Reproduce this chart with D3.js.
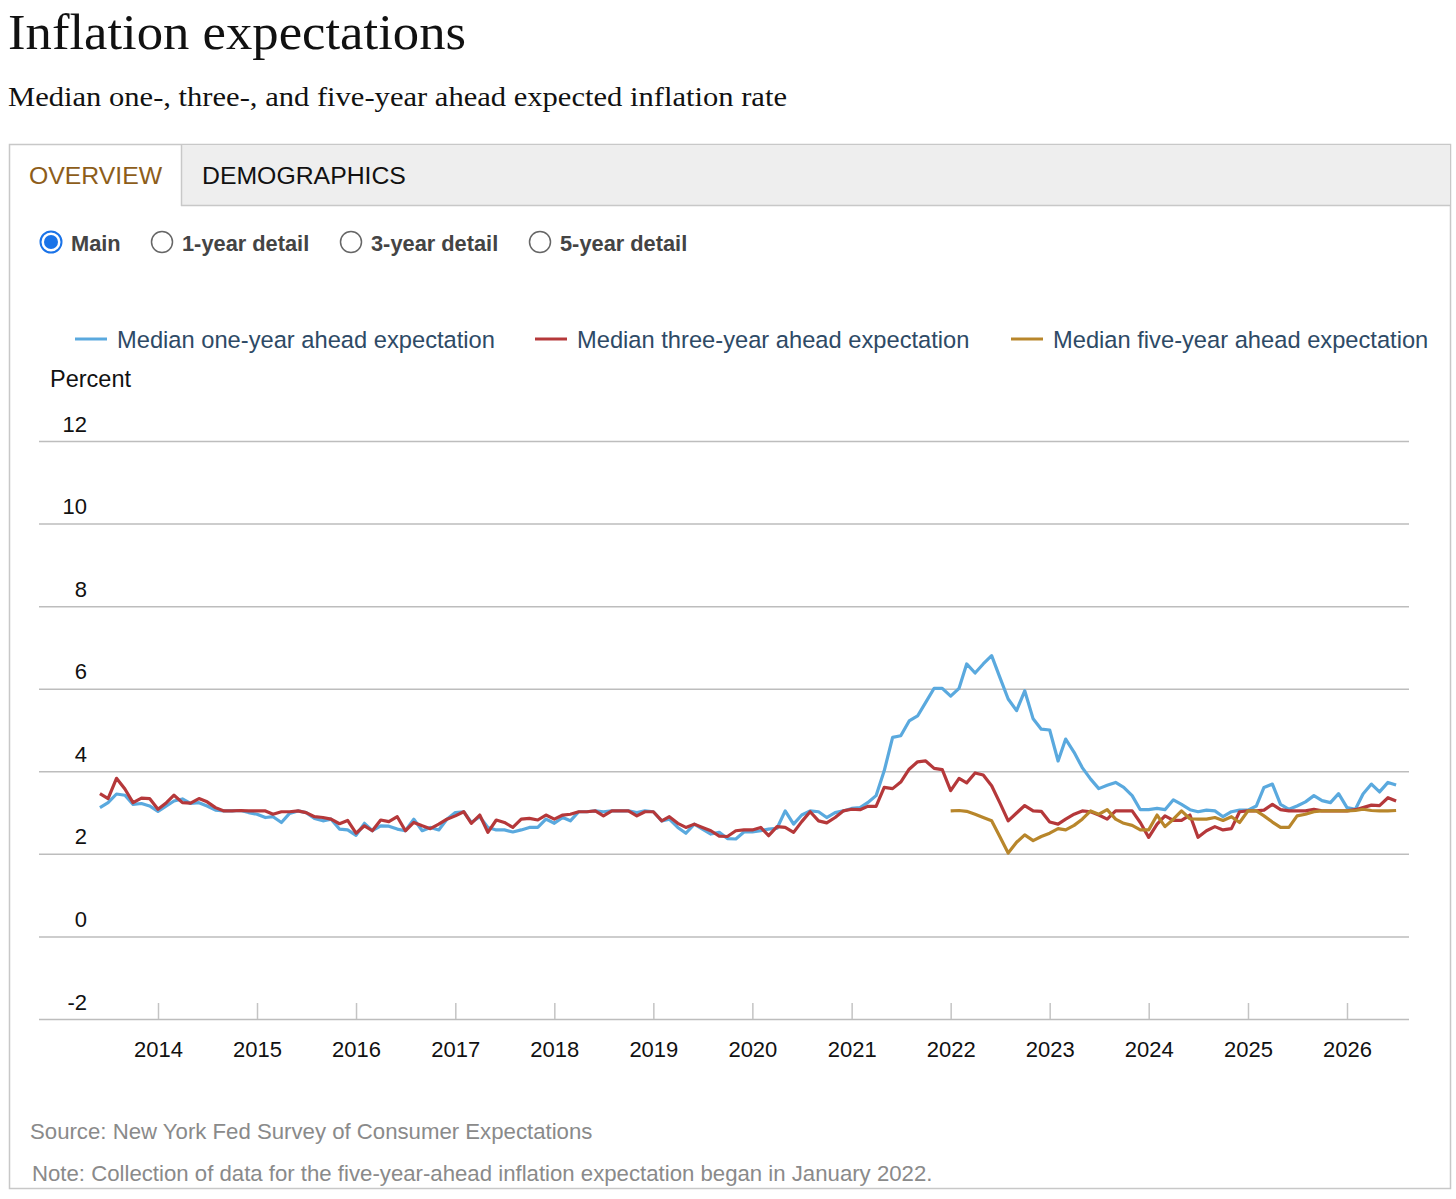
<!DOCTYPE html>
<html>
<head>
<meta charset="utf-8">
<script src="https://cdn.jsdelivr.net/npm/d3@7"></script>
<style>
  html, body { margin: 0; padding: 0; background: #fff; }
  svg { display: block; }
  text { font-family: "Liberation Sans", Arial, sans-serif; }
</style>
</head>
<body>
<svg id="chart" width="1456" height="1199"></svg>
<script>
// ---- Data (monthly, starting June 2013) ----
const startYear = 2013, startMonth = 5; // June 2013
const oneYear = [3.12,3.24,3.45,3.42,3.20,3.22,3.16,3.03,3.16,3.28,3.33,3.22,3.24,3.16,3.06,3.04,3.04,3.05,3.00,2.96,
  2.88,2.90,2.76,2.98,3.04,3.00,2.86,2.80,2.84,2.60,2.58,2.45,2.74,2.56,2.68,2.67,2.60,2.56,2.84,2.56,
  2.64,2.58,2.84,3.00,3.02,2.76,2.90,2.64,2.58,2.58,2.53,2.58,2.64,2.64,2.84,2.74,2.88,2.80,3.02,3.02,
  3.04,3.02,3.04,3.04,3.04,3.00,3.04,3.02,2.80,2.84,2.64,2.50,2.72,2.60,2.48,2.52,2.37,2.36,2.53,2.53,
  2.56,2.60,2.62,3.04,2.72,2.94,3.04,3.02,2.88,3.00,3.04,3.10,3.12,3.24,3.41,4.01,4.82,4.86,5.22,5.34,
  5.67,6.01,6.01,5.82,6.01,6.60,6.38,6.60,6.80,6.28,5.75,5.47,5.95,5.27,5.02,5.00,4.25,4.78,4.46,4.09,
  3.81,3.58,3.66,3.73,3.61,3.41,3.07,3.07,3.10,3.07,3.31,3.20,3.07,3.02,3.06,3.04,2.90,3.02,3.06,3.06,
  3.16,3.61,3.69,3.20,3.08,3.16,3.26,3.41,3.29,3.24,3.46,3.12,3.08,3.45,3.69,3.50,3.73,3.67];
const threeYear = [3.46,3.34,3.83,3.57,3.24,3.35,3.34,3.08,3.24,3.42,3.24,3.23,3.34,3.26,3.12,3.04,3.04,3.05,3.04,3.04,
  3.04,2.96,3.02,3.02,3.04,3.00,2.90,2.88,2.84,2.73,2.81,2.50,2.68,2.56,2.82,2.78,2.90,2.56,2.76,2.68,
  2.61,2.72,2.84,2.92,3.02,2.74,2.94,2.52,2.82,2.76,2.64,2.84,2.86,2.82,2.94,2.84,2.94,2.96,3.02,3.02,
  3.04,2.92,3.04,3.04,3.04,2.92,3.02,3.02,2.80,2.90,2.74,2.64,2.72,2.64,2.56,2.43,2.42,2.56,2.58,2.58,
  2.64,2.44,2.66,2.64,2.52,2.78,3.02,2.80,2.75,2.88,3.04,3.08,3.07,3.15,3.15,3.61,3.58,3.74,4.05,4.23,
  4.25,4.07,4.04,3.53,3.83,3.72,3.96,3.91,3.65,3.24,2.80,2.99,3.17,3.04,3.03,2.77,2.72,2.84,2.96,3.04,
  3.02,2.94,2.84,3.04,3.04,3.04,2.76,2.40,2.72,2.92,2.81,2.81,2.94,2.40,2.56,2.66,2.58,2.61,3.02,3.04,
  3.04,3.06,3.20,3.07,3.04,3.04,3.04,3.08,3.04,3.04,3.04,3.04,3.07,3.12,3.18,3.17,3.36,3.28];
// five-year series starts January 2022 (index 103 of the monthly grid)
const fiveYearStartIndex = 103;
const fiveYear = [3.04,3.05,3.03,2.96,2.88,2.80,2.42,2.02,2.28,2.46,2.32,2.42,2.50,2.61,2.58,2.69,2.84,3.04,2.96,3.07,
  2.84,2.74,2.69,2.58,2.58,2.94,2.66,2.84,3.04,2.85,2.84,2.84,2.88,2.81,2.90,2.76,3.04,3.04,2.92,2.77,
  2.64,2.64,2.92,2.96,3.02,3.04,3.04,3.04,3.04,3.05,3.08,3.05,3.04,3.04,3.05];
const yearTicks = [2014,2015,2016,2017,2018,2019,2020,2021,2022,2023,2024,2025,2026];
const yTicks = [-2,0,2,4,6,8,10,12];
const seriesNames = ["Median one-year ahead expectation","Median three-year ahead expectation","Median five-year ahead expectation"];
const seriesColors = ["#5aa9de","#b5383a","#b8862b"];
const radioLabels = ["Main","1-year detail","3-year detail","5-year detail"];
const tabLabels = ["OVERVIEW","DEMOGRAPHICS"];

const dateAt = i => new Date(startYear, startMonth + i, 1);
const s1 = oneYear.map((v,i)=>({d:dateAt(i), v}));
const s3 = threeYear.map((v,i)=>({d:dateAt(i), v}));
const s5 = fiveYear.map((v,i)=>({d:dateAt(i+fiveYearStartIndex), v}));

const svg = d3.select("#chart");

// ---- Titles ----
svg.append("text").attr("x",8).attr("y",49)
  .style("font-family","'Liberation Serif','DejaVu Serif',serif").style("font-size","51px").attr("fill","#111")
  .attr("textLength",458).attr("lengthAdjust","spacingAndGlyphs")
  .text("Inflation expectations");
svg.append("text").attr("x",8).attr("y",106)
  .style("font-family","'Liberation Serif','DejaVu Serif',serif").style("font-size","27px").attr("fill","#111")
  .attr("textLength",779).attr("lengthAdjust","spacingAndGlyphs")
  .text("Median one-, three-, and five-year ahead expected inflation rate");

// ---- Container & tabs ----
svg.append("rect").attr("x",9.5).attr("y",144.5).attr("width",1441).attr("height",1044)
  .attr("fill","#fff").attr("stroke","#c8c8c8").attr("stroke-width",1.5);
svg.append("rect").attr("x",181).attr("y",145).attr("width",1269).attr("height",60).attr("fill","#eeeeee");
svg.append("line").attr("x1",181.5).attr("x2",181.5).attr("y1",145).attr("y2",206).attr("stroke","#c8c8c8").attr("stroke-width",1.5);
svg.append("line").attr("x1",181).attr("x2",1450).attr("y1",205.5).attr("y2",205.5).attr("stroke","#c8c8c8").attr("stroke-width",1.5);
svg.append("text").attr("x",29).attr("y",184).style("font-size","24.8px").attr("fill","#8d5d1a").text(tabLabels[0]);
svg.append("text").attr("x",202).attr("y",184).style("font-size","24.8px").attr("fill","#111").text(tabLabels[1]);

// ---- Radio buttons ----
const radioX = [51,162,351,540];
radioLabels.forEach((lab,i)=>{
  const cx = radioX[i], cy = 242;
  if (i===0) {
    svg.append("circle").attr("cx",cx).attr("cy",cy).attr("r",10.5).attr("fill","#fff").attr("stroke","#1a73e8").attr("stroke-width",2);
    svg.append("circle").attr("cx",cx).attr("cy",cy).attr("r",7).attr("fill","#1a73e8");
  } else {
    svg.append("circle").attr("cx",cx).attr("cy",cy).attr("r",10.5).attr("fill","#fff").attr("stroke","#666").attr("stroke-width",1.5);
  }
  svg.append("text").attr("x",cx+20).attr("y",251).style("font-size","21.8px").style("font-weight","bold")
    .attr("fill","#444").text(lab);
});

// ---- Legend ----
const legX = [75,535,1011];
seriesNames.forEach((n,i)=>{
  svg.append("line").attr("x1",legX[i]).attr("x2",legX[i]+32).attr("y1",339).attr("y2",339)
    .attr("stroke",seriesColors[i]).attr("stroke-width",3);
  svg.append("text").attr("x",legX[i]+42).attr("y",347.5).style("font-size","23.7px").attr("fill","#2e4a66").text(n);
});

svg.append("text").attr("x",50).attr("y",387).style("font-size","23.5px").attr("fill","#111").text("Percent");

// ---- Scales ----
const x = d3.scaleTime().domain([new Date(2014,0,1), new Date(2026,0,1)]).range([158,1347]);
const y = d3.scaleLinear().domain([-2,12]).range([1019,441]);

// gridlines + y labels
const yAxis = d3.axisLeft(y).tickValues(yTicks).tickSize(1370).tickPadding(0).tickFormat(d => String(d));
const gy = svg.append("g").attr("transform","translate(1409,0)").call(yAxis);
gy.select(".domain").remove();
gy.selectAll(".tick line").attr("stroke","#bdbdbd").attr("stroke-width",1.5);
gy.selectAll(".tick text").attr("x",-1322).attr("dy","-0.45em").attr("text-anchor","end")
  .style("font-size","22px").style("font-family","'Liberation Sans', Arial, sans-serif").attr("fill","#111");

// x axis
const xAxis = d3.axisBottom(x).tickValues(yearTicks.map(yr=>new Date(yr,0,1)))
  .tickSize(-16).tickPadding(22).tickFormat(d3.timeFormat("%Y"));
const gx = svg.append("g").attr("transform","translate(0,1019)").call(xAxis);
gx.select(".domain").remove();
gx.selectAll(".tick line").attr("stroke","#c4c4c4").attr("stroke-width",1.5);
gx.selectAll(".tick text").style("font-size","22px").style("font-family","'Liberation Sans', Arial, sans-serif").attr("fill","#111");

// ---- Lines ----
const line = d3.line().x(d=>x(d.d)).y(d=>y(d.v));
[s1,s3,s5].forEach((s,i)=>{
  svg.append("path").datum(s).attr("d",line).attr("fill","none")
    .attr("stroke",seriesColors[i]).attr("stroke-width",3.2).attr("stroke-linejoin","round");
});

// ---- Footnotes ----
svg.append("text").attr("x",30).attr("y",1139).style("font-size","22.2px").attr("fill","#8a8a8a")
  .text("Source: New York Fed Survey of Consumer Expectations");
svg.append("text").attr("x",32).attr("y",1181).style("font-size","22.2px").attr("fill","#8a8a8a")
  .text("Note: Collection of data for the five-year-ahead inflation expectation began in January 2022.");
</script>
</body>
</html>
